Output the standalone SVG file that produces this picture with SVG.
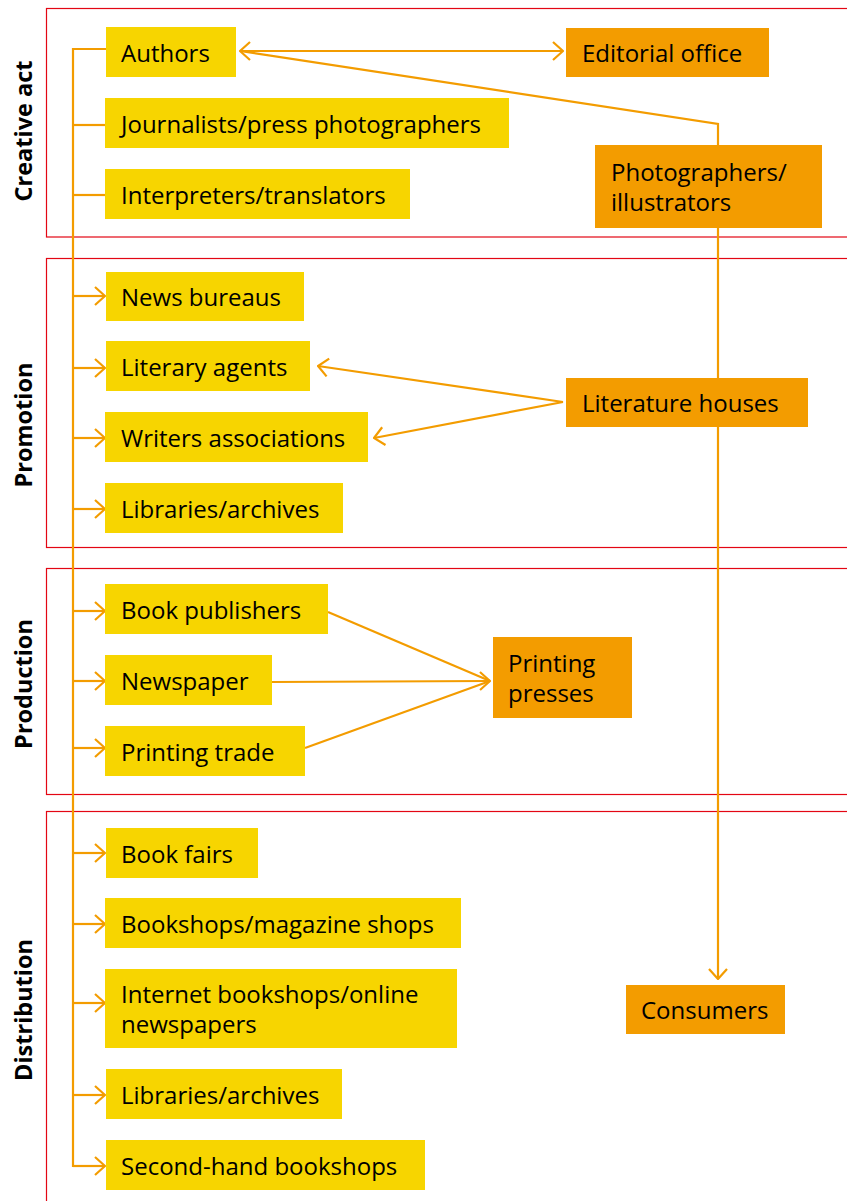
<svg xmlns="http://www.w3.org/2000/svg" width="847" height="1201" viewBox="0 0 847 1201">
<defs>
<style>
.frame{fill:none;stroke:#e30613;stroke-width:1.2}
.y{fill:#f7d500}
.o{fill:#f39c00}
.t{font-family:"Open Sans","Noto Sans",sans-serif;font-size:24px;fill:#000}
.sec{font-family:"Open Sans","Noto Sans",sans-serif;font-size:23.5px;font-weight:bold;fill:#000}
.c{fill:none;stroke:#f39c00;stroke-width:2.2}
</style>
<marker id="ah" viewBox="0 0 12 20" refX="11" refY="10" markerWidth="12" markerHeight="20" markerUnits="userSpaceOnUse" orient="auto-start-reverse">
<path d="M1,1 L11,10 L1,19" fill="none" stroke="#f39c00" stroke-width="2.2"/>
</marker>
</defs>
<rect width="847" height="1201" fill="#fff"/>
<g id="frames">
<rect class="frame" x="46.5" y="8.5" width="820" height="228.5"/>
<rect class="frame" x="46.5" y="258.5" width="820" height="289"/>
<rect class="frame" x="46.5" y="568.5" width="820" height="226"/>
<rect class="frame" x="46.5" y="811.5" width="820" height="420"/>
</g>
<g id="section-labels">
<text class="sec" transform="translate(32,131) rotate(-90)" text-anchor="middle">Creative act</text>
<text class="sec" transform="translate(32,425) rotate(-90)" text-anchor="middle">Promotion</text>
<text class="sec" transform="translate(32,684) rotate(-90)" text-anchor="middle">Production</text>
<text class="sec" transform="translate(32,1010) rotate(-90)" text-anchor="middle">Distribution</text>
</g>
<g id="connectors">
<path class="c" d="M73,1167 V49 H106"/>
<path class="c" d="M73,125 H105"/>
<path class="c" d="M73,195 H105"/>
<path class="c" d="M73,296 H105" marker-end="url(#ah)"/>
<path class="c" d="M73,368 H105" marker-end="url(#ah)"/>
<path class="c" d="M73,438 H105" marker-end="url(#ah)"/>
<path class="c" d="M73,509 H105" marker-end="url(#ah)"/>
<path class="c" d="M73,611 H105" marker-end="url(#ah)"/>
<path class="c" d="M73,681 H105" marker-end="url(#ah)"/>
<path class="c" d="M73,748 H105" marker-end="url(#ah)"/>
<path class="c" d="M73,853 H105" marker-end="url(#ah)"/>
<path class="c" d="M73,924 H105" marker-end="url(#ah)"/>
<path class="c" d="M73,1003 H105" marker-end="url(#ah)"/>
<path class="c" d="M73,1095 H105" marker-end="url(#ah)"/>
<path class="c" d="M73,1166 H105" marker-end="url(#ah)"/>
<path class="c" d="M240,51 H563" marker-start="url(#ah)" marker-end="url(#ah)"/>
<path class="c" d="M240,51 L718,124 V979" marker-end="url(#ah)"/>
<path class="c" d="M563,402 L318,366" marker-end="url(#ah)"/>
<path class="c" d="M563,402 L374,438" marker-end="url(#ah)"/>
<path class="c" d="M328,612 L490,681"/>
<path class="c" d="M272,682 L490,681" marker-end="url(#ah)"/>
<path class="c" d="M305,748 L490,681"/>
</g>
<g id="authors"><rect class="y" x="106" y="27" width="130" height="50"/><text class="t" x="121" y="62">Authors</text></g>
<g id="journalists"><rect class="y" x="105" y="98" width="404" height="50"/><text class="t" x="121" y="133">Journalists/press photographers</text></g>
<g id="interpreters"><rect class="y" x="105" y="169" width="305" height="50"/><text class="t" x="121" y="204">Interpreters/translators</text></g>
<g id="news-bureaus"><rect class="y" x="106" y="272" width="198" height="49"/><text class="t" x="121" y="306">News bureaus</text></g>
<g id="literary-agents"><rect class="y" x="106" y="341" width="204" height="50"/><text class="t" x="121" y="376">Literary agents</text></g>
<g id="writers-associations"><rect class="y" x="105" y="412" width="263" height="50"/><text class="t" x="121" y="447">Writers associations</text></g>
<g id="libraries-promotion"><rect class="y" x="105" y="483" width="238" height="50"/><text class="t" x="121" y="518">Libraries/archives</text></g>
<g id="book-publishers"><rect class="y" x="105" y="584" width="223" height="50"/><text class="t" x="121" y="619">Book publishers</text></g>
<g id="newspaper"><rect class="y" x="105" y="655" width="167" height="50"/><text class="t" x="121" y="690">Newspaper</text></g>
<g id="printing-trade"><rect class="y" x="105" y="726" width="200" height="50"/><text class="t" x="121" y="761">Printing trade</text></g>
<g id="book-fairs"><rect class="y" x="106" y="828" width="152" height="50"/><text class="t" x="121" y="863">Book fairs</text></g>
<g id="bookshops"><rect class="y" x="105" y="898" width="356" height="50"/><text class="t" x="121" y="933">Bookshops/magazine shops</text></g>
<g id="internet-bookshops"><rect class="y" x="105" y="969" width="352" height="79"/><text class="t" x="121" y="1003">Internet bookshops/online</text><text class="t" x="121" y="1033">newspapers</text></g>
<g id="libraries-distribution"><rect class="y" x="106" y="1069" width="236" height="50"/><text class="t" x="121" y="1104">Libraries/archives</text></g>
<g id="second-hand"><rect class="y" x="106" y="1140" width="319" height="50"/><text class="t" x="121" y="1175">Second-hand bookshops</text></g>
<g id="editorial-office"><rect class="o" x="566" y="28" width="203" height="49"/><text class="t" x="582" y="62">Editorial office</text></g>
<g id="photographers"><rect class="o" x="595" y="145" width="227" height="83"/><text class="t" x="611" y="181">Photographers/</text><text class="t" x="611" y="211">illustrators</text></g>
<g id="literature-houses"><rect class="o" x="566" y="378" width="242" height="49"/><text class="t" x="582" y="412">Literature houses</text></g>
<g id="printing-presses"><rect class="o" x="493" y="637" width="139" height="81"/><text class="t" x="508" y="672">Printing</text><text class="t" x="508" y="702">presses</text></g>
<g id="consumers"><rect class="o" x="626" y="985" width="159" height="49"/><text class="t" x="641" y="1019">Consumers</text></g>
</svg>
